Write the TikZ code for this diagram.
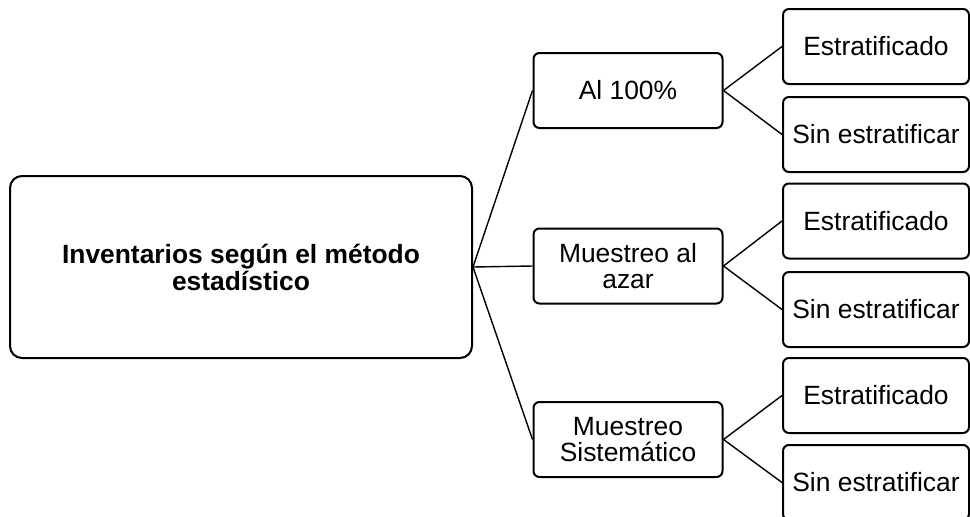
\documentclass[tikz,border=0pt]{standalone}
\usepackage{fontspec}
\setmainfont{Liberation Sans}
\begin{document}
\begin{tikzpicture}[x=1pt,y=-1pt,
  box/.style={draw,line width=2pt,rounded corners=6pt,align=center,inner sep=0pt,
    font=\fontsize{26.4pt}{26.5pt}\selectfont},
  midbox/.style={box,minimum width=189pt,minimum height=75pt},
  leafbox/.style={box,minimum width=186pt,minimum height=75pt},
  link/.style={line width=1.4pt}]
\useasboundingbox (0,0) rectangle (970,517);
\node[box,rounded corners=12pt,minimum width=462pt,minimum height=182pt,font=\fontsize{26.4pt}{27pt}\selectfont\bfseries] (main) at (241,267) {Inventarios según el método\\estadístico};
\node[midbox] (m1) at (628,90.5) {Al 100\%};
\node[midbox] (m2) at (628,266) {Muestreo al\\azar};
\node[midbox] (m3) at (628,439.5) {Muestreo\\Sistemático};
\node[leafbox] (l1) at (876,46.5) {Estratificado};
\node[leafbox] (l2) at (876,134.5) {Sin estratificar};
\node[leafbox] (l3) at (876,221) {Estratificado};
\node[leafbox] (l4) at (876,309.5) {Sin estratificar};
\node[leafbox] (l5) at (876,395.5) {Estratificado};
\node[leafbox] (l6) at (876,482.5) {Sin estratificar};
\foreach \m in {m1,m2,m3} \draw[link] (main.east) -- (\m.west);
\draw[link] (m1.east) -- (l1.west);
\draw[link] (m1.east) -- (l2.west);
\draw[link] (m2.east) -- (l3.west);
\draw[link] (m2.east) -- (l4.west);
\draw[link] (m3.east) -- (l5.west);
\draw[link] (m3.east) -- (l6.west);
\end{tikzpicture}
\end{document}
